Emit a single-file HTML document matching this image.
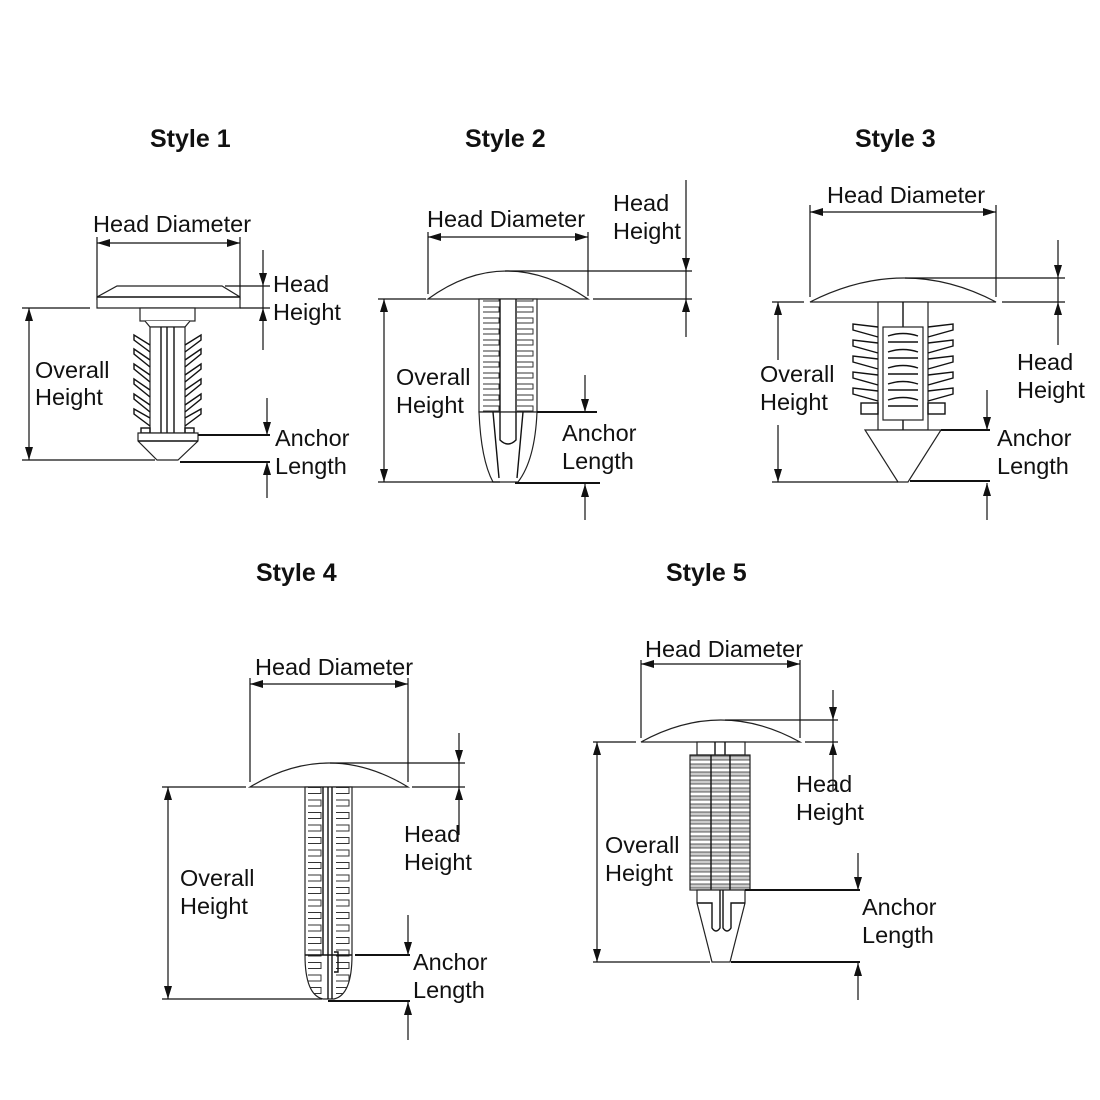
<!DOCTYPE html>
<html><head><meta charset="utf-8"><style>
html,body{margin:0;padding:0;background:#fff;}
svg{display:block;}
text{font-family:"Liberation Sans",Arial,sans-serif;font-size:23.5px;fill:#111;}
.t{font-weight:bold;font-size:25px;}
.l{stroke:#111;stroke-width:1.4;fill:none;}
.d{stroke:#111;stroke-width:1.2;fill:none;}
.s{stroke:#222;stroke-width:1.2;fill:#fff;}
</style></head><body>
<svg width="1100" height="1100" viewBox="0 0 1100 1100" xmlns="http://www.w3.org/2000/svg">
<defs>
<marker id="a" markerWidth="14" markerHeight="10" refX="13" refY="4" orient="auto-start-reverse" markerUnits="userSpaceOnUse">
<path d="M0,0 L13,4 L0,8 z" fill="#111"/></marker>
<pattern id="rib2" width="60" height="11" patternUnits="userSpaceOnUse" x="479" y="304">
<rect x="0" y="0" width="60" height="11" fill="#fff"/>
<path d="M4,3 H20 V8 H4 M38,3 H54 V8 H38" stroke="#333" stroke-width="1" fill="none"/>
</pattern>
<pattern id="rib4" width="50" height="12.5" patternUnits="userSpaceOnUse" x="305" y="797">
<rect width="50" height="12.5" fill="#fff"/>
<path d="M3,3 H16 V9 H3 M31,3 H44 V9 H31" stroke="#333" stroke-width="1" fill="none"/>
</pattern>
<pattern id="rib5" width="62" height="8" patternUnits="userSpaceOnUse" x="690" y="755">
<rect width="62" height="8" fill="#fff"/>
<rect x="0" y="1" width="60" height="4" fill="#ccc" stroke="#333" stroke-width="0.8"/>
</pattern>
</defs>

<text class="t" x="150" y="147">Style 1</text>
<text class="t" x="465" y="147">Style 2</text>
<text class="t" x="855" y="147">Style 3</text>
<text class="t" x="256" y="581">Style 4</text>
<text class="t" x="666" y="581">Style 5</text>

<!-- STYLE 1 -->
<text x="93" y="232">Head Diameter</text>
<line class="d" x1="97" y1="243" x2="240" y2="243" marker-start="url(#a)" marker-end="url(#a)"/>
<line class="d" x1="97" y1="237" x2="97" y2="300"/>
<line class="d" x1="240" y1="237" x2="240" y2="300"/>
<path class="s" d="M117,286 H222 L240,297 V308 H97 V297 Z"/>
<line class="l" x1="97" y1="297" x2="240" y2="297"/>
<rect class="s" x="140" y="308" width="55" height="13"/>
<path class="s" d="M145,321 L150,327 H185 L190,321"/>
<rect class="s" x="150" y="327" width="35" height="106"/>
<line class="l" x1="161" y1="327" x2="161" y2="433"/>
<line class="l" x1="167" y1="327" x2="167" y2="433"/>
<line class="l" x1="174" y1="327" x2="174" y2="433"/>
<g class="l">
<path d="M150,345 L134,335 V340 L150,352 M150,360 L134,349 V354 L150,367 M150,375 L134,364 V369 L150,382 M150,390 L134,379 V384 L150,397 M150,405 L134,394 V399 L150,412 M150,418 L134,409 V414 L150,426"/>
<path d="M185,345 L201,335 V340 L185,352 M185,360 L201,349 V354 L185,367 M185,375 L201,364 V369 L185,382 M185,390 L201,379 V384 L185,397 M185,405 L201,394 V399 L185,412 M185,418 L201,409 V414 L185,426"/>
<rect x="141" y="428" width="9" height="5"/><rect x="185" y="428" width="9" height="5"/>
</g>
<path class="s" d="M138,433 H198 V441 L178,460 H157 L138,441 Z"/>
<line class="l" x1="138" y1="441" x2="198" y2="441"/>
<line class="d" x1="263" y1="250" x2="263" y2="286" marker-end="url(#a)"/>
<line class="d" x1="263" y1="350" x2="263" y2="308" marker-end="url(#a)"/>
<line class="d" x1="263" y1="286" x2="263" y2="308"/>
<line class="d" x1="225" y1="286" x2="270" y2="286"/>
<line class="d" x1="240" y1="308" x2="270" y2="308"/>
<text x="273" y="292">Head</text><text x="273" y="320">Height</text>
<line class="d" x1="29" y1="384" x2="29" y2="308" marker-end="url(#a)"/>
<line class="d" x1="29" y1="384" x2="29" y2="460" marker-end="url(#a)"/>
<line class="d" x1="22" y1="308" x2="90" y2="308"/>
<line class="d" x1="22" y1="460" x2="155" y2="460"/>
<text x="35" y="378">Overall</text><text x="35" y="405">Height</text>
<line class="d" x1="267" y1="398" x2="267" y2="435" marker-end="url(#a)"/>
<line class="d" x1="267" y1="498" x2="267" y2="462" marker-end="url(#a)"/>
<line class="l" x1="198" y1="435" x2="270" y2="435" style="stroke-width:2"/>
<line class="l" x1="180" y1="462" x2="270" y2="462" style="stroke-width:2"/>
<text x="275" y="446">Anchor</text><text x="275" y="474">Length</text>

<!-- STYLE 2 -->
<text x="427" y="227">Head Diameter</text>
<line class="d" x1="428" y1="237" x2="588" y2="237" marker-start="url(#a)" marker-end="url(#a)"/>
<line class="d" x1="428" y1="232" x2="428" y2="294"/>
<line class="d" x1="588" y1="232" x2="588" y2="296"/>
<path class="s" d="M428,299 Q505,243 588,299 Z"/>
<rect x="479" y="299" width="58" height="113" fill="url(#rib2)" stroke="#222" stroke-width="1.2"/>
<line class="l" x1="500" y1="299" x2="500" y2="412"/><line class="l" x1="516" y1="299" x2="516" y2="412"/>
<path class="s" d="M479,412 Q481,460 493,482 H518 Q535,460 537,412 Z"/>
<path class="l" d="M500,412 V440 Q508,448 516,440 V412 M493,412 L499,478 M523,412 L517,478"/>
<line class="d" x1="686" y1="180" x2="686" y2="271" marker-end="url(#a)"/>
<line class="d" x1="686" y1="337" x2="686" y2="299" marker-end="url(#a)"/>
<line class="d" x1="686" y1="271" x2="686" y2="299"/>
<line class="d" x1="505" y1="271" x2="692" y2="271"/>
<line class="d" x1="593" y1="299" x2="692" y2="299"/>
<text x="613" y="211">Head</text><text x="613" y="239">Height</text>
<line class="d" x1="384" y1="390" x2="384" y2="299" marker-end="url(#a)"/>
<line class="d" x1="384" y1="390" x2="384" y2="482" marker-end="url(#a)"/>
<line class="d" x1="378" y1="299" x2="426" y2="299"/>
<line class="d" x1="378" y1="482" x2="500" y2="482"/>
<text x="396" y="385">Overall</text><text x="396" y="413">Height</text>
<line class="d" x1="585" y1="375" x2="585" y2="412" marker-end="url(#a)"/>
<line class="d" x1="585" y1="520" x2="585" y2="484" marker-end="url(#a)"/>
<line class="l" x1="537" y1="412" x2="597" y2="412" style="stroke-width:2"/>
<line class="l" x1="515" y1="483" x2="600" y2="483" style="stroke-width:2"/>
<text x="562" y="441">Anchor</text><text x="562" y="469">Length</text>

<!-- STYLE 3 -->
<text x="827" y="203">Head Diameter</text>
<line class="d" x1="810" y1="212" x2="996" y2="212" marker-start="url(#a)" marker-end="url(#a)"/>
<line class="d" x1="810" y1="205" x2="810" y2="297"/>
<line class="d" x1="996" y1="205" x2="996" y2="297"/>
<path class="s" d="M810,302 Q905,254 996,302 Z"/>
<rect class="s" x="878" y="302" width="50" height="128"/>
<line class="l" x1="903" y1="302" x2="903" y2="430"/>
<rect class="s" x="883" y="327" width="40" height="93"/>
<g class="l">
<path d="M888,342 H918 M888,358 H918 M888,374 H918 M888,390 H918 M888,406 H918 M888,336 Q903,331 918,336 M888,352 Q903,347 918,352 M888,368 Q903,363 918,368 M888,384 Q903,379 918,384 M888,400 Q903,395 918,400"/>
<path d="M878,327 L853,324 V330 L878,337 M878,343 L853,340 V346 L878,353 M878,359 L853,356 V362 L878,369 M878,375 L853,372 V378 L878,385 M878,391 L853,388 V394 L878,401"/>
<path d="M928,327 L953,324 V330 L928,337 M928,343 L953,340 V346 L928,353 M928,359 L953,356 V362 L928,369 M928,375 L953,372 V378 L928,385 M928,391 L953,388 V394 L928,401"/>
<rect x="861" y="403" width="17" height="11"/><rect x="928" y="403" width="17" height="11"/>
</g>
<path class="s" d="M865,430 H941 L908,482 H898 Z"/>
<line class="d" x1="1058" y1="240" x2="1058" y2="278" marker-end="url(#a)"/>
<line class="d" x1="1058" y1="345" x2="1058" y2="302" marker-end="url(#a)"/>
<line class="d" x1="1058" y1="278" x2="1058" y2="302"/>
<line class="d" x1="905" y1="278" x2="1065" y2="278"/>
<line class="d" x1="1002" y1="302" x2="1065" y2="302"/>
<text x="1017" y="370">Head</text><text x="1017" y="398">Height</text>
<line class="d" x1="778" y1="360" x2="778" y2="302" marker-end="url(#a)"/>
<line class="d" x1="778" y1="425" x2="778" y2="482" marker-end="url(#a)"/>
<line class="d" x1="772" y1="302" x2="804" y2="302"/>
<line class="d" x1="772" y1="482" x2="898" y2="482"/>
<text x="760" y="382">Overall</text><text x="760" y="410">Height</text>
<line class="d" x1="987" y1="390" x2="987" y2="430" marker-end="url(#a)"/>
<line class="d" x1="987" y1="520" x2="987" y2="483" marker-end="url(#a)"/>
<line class="l" x1="941" y1="430" x2="990" y2="430" style="stroke-width:2"/>
<line class="l" x1="910" y1="481" x2="990" y2="481" style="stroke-width:2"/>
<text x="997" y="446">Anchor</text><text x="997" y="474">Length</text>

<!-- STYLE 4 -->
<text x="255" y="675">Head Diameter</text>
<line class="d" x1="250" y1="684" x2="408" y2="684" marker-start="url(#a)" marker-end="url(#a)"/>
<line class="d" x1="250" y1="678" x2="250" y2="782"/>
<line class="d" x1="408" y1="678" x2="408" y2="782"/>
<path class="s" d="M250,787 Q329,739 408,787 Z"/>
<path d="M305,787 V955 Q305,995 323,999 H334 Q352,995 352,955 V787 Z" fill="url(#rib4)" stroke="#222" stroke-width="1.2"/>
<path class="l" d="M323,787 V955 M328,787 V999 M332,787 V999 M305,955 H352 M334,952 H338 V972 H334"/>
<line class="d" x1="459" y1="733" x2="459" y2="763" marker-end="url(#a)"/>
<line class="d" x1="459" y1="835" x2="459" y2="787" marker-end="url(#a)"/>
<line class="d" x1="459" y1="763" x2="459" y2="787"/>
<line class="d" x1="330" y1="763" x2="465" y2="763"/>
<line class="d" x1="412" y1="787" x2="465" y2="787"/>
<text x="404" y="842">Head</text><text x="404" y="870">Height</text>
<line class="d" x1="168" y1="890" x2="168" y2="787" marker-end="url(#a)"/>
<line class="d" x1="168" y1="890" x2="168" y2="999" marker-end="url(#a)"/>
<line class="d" x1="162" y1="787" x2="246" y2="787"/>
<line class="d" x1="162" y1="999" x2="322" y2="999"/>
<text x="180" y="886">Overall</text><text x="180" y="914">Height</text>
<line class="d" x1="408" y1="915" x2="408" y2="955" marker-end="url(#a)"/>
<line class="d" x1="408" y1="1040" x2="408" y2="1002" marker-end="url(#a)"/>
<line class="l" x1="355" y1="955" x2="410" y2="955" style="stroke-width:2"/>
<line class="l" x1="328" y1="1001" x2="410" y2="1001" style="stroke-width:2"/>
<text x="413" y="970">Anchor</text><text x="413" y="998">Length</text>

<!-- STYLE 5 -->
<text x="645" y="657">Head Diameter</text>
<line class="d" x1="641" y1="664" x2="800" y2="664" marker-start="url(#a)" marker-end="url(#a)"/>
<line class="d" x1="641" y1="660" x2="641" y2="738"/>
<line class="d" x1="800" y1="660" x2="800" y2="738"/>
<path class="s" d="M641,742 Q721,698 800,742 Z"/>
<rect class="s" x="697" y="742" width="48" height="13"/>
<path class="l" d="M715,742 V755 M725,742 V755"/>
<rect x="690" y="755" width="60" height="135" fill="url(#rib5)" stroke="#222" stroke-width="1.2"/>
<path class="l" d="M711,755 V890 M730,755 V890"/>
<path class="s" d="M697,890 V903 L712,962 H730 L745,903 V890 Z"/>
<path class="l" d="M697,903 H712 V928 Q716,934 720,928 V890 M723,890 V928 Q727,934 731,928 V903 H745"/>
<line class="d" x1="833" y1="690" x2="833" y2="720" marker-end="url(#a)"/>
<line class="d" x1="833" y1="790" x2="833" y2="742" marker-end="url(#a)"/>
<line class="d" x1="833" y1="720" x2="833" y2="742"/>
<line class="d" x1="725" y1="720" x2="838" y2="720"/>
<line class="d" x1="805" y1="742" x2="838" y2="742"/>
<text x="796" y="792">Head</text><text x="796" y="820">Height</text>
<line class="d" x1="597" y1="850" x2="597" y2="742" marker-end="url(#a)"/>
<line class="d" x1="597" y1="850" x2="597" y2="962" marker-end="url(#a)"/>
<line class="d" x1="593" y1="742" x2="636" y2="742"/>
<line class="d" x1="593" y1="962" x2="710" y2="962"/>
<text x="605" y="853">Overall</text><text x="605" y="881">Height</text>
<line class="d" x1="858" y1="853" x2="858" y2="890" marker-end="url(#a)"/>
<line class="d" x1="858" y1="1000" x2="858" y2="963" marker-end="url(#a)"/>
<line class="l" x1="745" y1="890" x2="860" y2="890" style="stroke-width:2"/>
<line class="l" x1="731" y1="962" x2="860" y2="962" style="stroke-width:2"/>
<text x="862" y="915">Anchor</text><text x="862" y="943">Length</text>
</svg>
</body></html>
